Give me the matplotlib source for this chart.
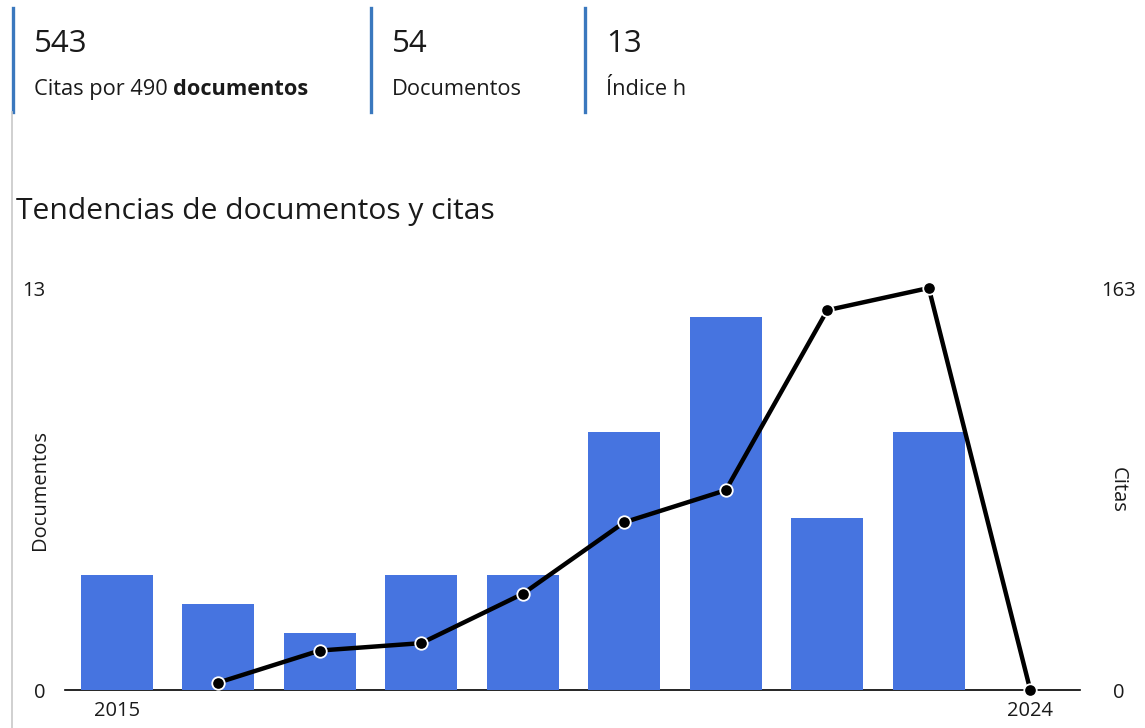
import matplotlib
matplotlib.use("Agg")
import matplotlib.pyplot as plt
from matplotlib.lines import Line2D
from matplotlib.text import Annotation
import numpy as np

plt.rcParams['font.family'] = ['Open Sans', 'DejaVu Sans']

years = [2015, 2016, 2017, 2018, 2019, 2020, 2021, 2022, 2023, 2024]
documentos = [4, 3, 2, 4, 4, 9, 13, 6, 9, 0]
citas = [np.nan, 3, 16, 19, 39, 68, 81, 154, 163, 0]

stat_values = ["543", "54", "13"]
stat_labels = ["Citas por 490 ", "Documentos", "Índice h"]
stat_bold = ["documentos", "", ""]
title = "Tendencias de documentos y citas"

W, H = 1145, 728
fig = plt.figure(figsize=(W / 100, H / 100), dpi=100)

def fx(px):
    return px / W

def fy(py):
    return 1 - py / H

txt = '#1a1a1a'
bar_color = "#4674E0"
border_blue = "#3A78BE"
box_x = [13, 371, 585]
for i, bx in enumerate(box_x):
    fig.add_artist(Line2D([fx(bx), fx(bx)], [fy(8), fy(112)], color=border_blue, lw=2.4))
    fig.text(fx(bx + 21), fy(52), stat_values[i], fontsize=22.5, va='baseline', ha='left', color=txt)
    t1 = fig.text(fx(bx + 21), fy(95), stat_labels[i], fontsize=15.7, va='baseline', ha='left', color=txt)
    if stat_bold[i]:
        fig.add_artist(Annotation(stat_bold[i], xy=(1, 0), xycoords=t1, va='bottom', ha='left',
                                  fontsize=15.7, fontweight='bold', color=txt))

fig.add_artist(Line2D([fx(12), fx(12)], [fy(112), fy(728)], color='#c8c8c8', lw=1.2))

fig.text(fx(16), fy(211), title, fontsize=21.6, va='center', ha='left', color=txt)

left, right, top, bottom = 65, 1080, 288, 690
ax = fig.add_axes([fx(left), fy(bottom), fx(right - left), (bottom - top) / H])
x = np.arange(len(years))
ax.bar(x, documentos, width=0.71, color=bar_color, zorder=1)
ymax_docs = 14
ax.set_ylim(0, ymax_docs)
ax.set_xlim(-0.51, len(years) - 0.51)
for s in ['top', 'left', 'right']:
    ax.spines[s].set_visible(False)
ax.spines['bottom'].set_color('black')
ax.spines['bottom'].set_linewidth(1.2)
ax.spines['bottom'].set_zorder(0)
ax.set_xticks([x[0], x[-1]])
ax.set_xticklabels([str(years[0]), str(years[-1])])
ax.tick_params(axis='x', length=0, pad=8, labelsize=14.5, labelcolor=txt)
ax.set_yticks([0, ymax_docs])
ax.set_yticklabels(["0", str(max(documentos))])
ax.tick_params(axis='y', length=0, pad=14, labelsize=14.5, labelcolor=txt)

ax2 = ax.twinx()
cmax = max(c for c in citas if not np.isnan(c))
ax2.set_ylim(0, cmax)
ax2.plot(x, citas, color='black', lw=3.2, marker='o', markersize=9,
         markerfacecolor='black', markeredgecolor='white', markeredgewidth=1.3, zorder=3,
         clip_on=False)
for s in ['top', 'left', 'right', 'bottom']:
    ax2.spines[s].set_visible(False)
ax2.set_yticks([0, cmax])
ax2.set_yticklabels(["0", str(int(cmax))])
ax2.tick_params(axis='y', length=0, pad=28, labelsize=14.5, labelcolor=txt)
for lab in ax2.get_yticklabels():
    lab.set_horizontalalignment('center')

fig.text(fx(40), fy(490), "Documentos", rotation=90, fontsize=14.5, va='center', ha='center', color=txt)
fig.text(fx(1118), fy(490), "Citas", rotation=-90, fontsize=14.5, va='center', ha='center', color=txt)

fig.savefig("out.png", dpi=100)
